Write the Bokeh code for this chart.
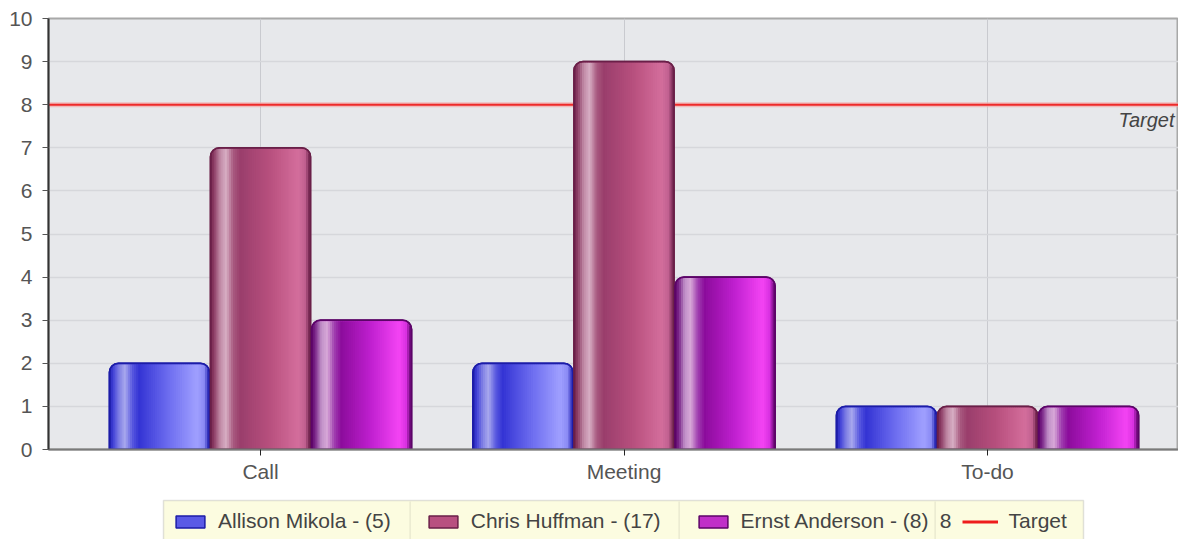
import numpy as np
from bokeh.plotting import figure
from bokeh.layouts import column
from bokeh.models import (Range1d, FixedTicker, Legend, LegendItem, Label, ColumnDataSource,
                          BoxAnnotation)
from bokeh.embed import file_html
from bokeh.resources import INLINE

# ---------------- data ----------------
categories = ["Call", "Meeting", "To-do"]
series_names = ["Allison Mikola", "Chris Huffman", "Ernst Anderson"]
allison = [2, 2, 1]
chris = [7, 9, 1]
ernst = [3, 4, 1]
target = 8
y_ticks = [0, 1, 2, 3, 4, 5, 6, 7, 8, 9, 10]

series_values = [allison, chris, ernst]

# ---------------- style ----------------
FONT = "Liberation Sans"
W = 1178
MAIN_H = 489
LEG_H = 50
BORDER_L, BORDER_T, BORDER_B = 48, 18, 40
FRAME_W = W - BORDER_L
FRAME_H = MAIN_H - BORDER_T - BORDER_B
X_LO, X_HI = -0.0832, 3.0254
Y_LO, Y_HI = 0, 10
BAR_W = 0.275
OFFSETS = [-0.278, 0.0, 0.278]
RADIUS_PX = 9
N_STRIPES = 48

profiles = [
    [(0.0, "#1c1ca8"), (0.04, "#4040d8"), (0.10, "#8080e4"), (0.16, "#a8a8ee"), (0.23, "#5a5ae0"),
     (0.30, "#3434d4"), (0.60, "#6e6ef0"), (0.88, "#a0a0ff"), (0.95, "#8a8af4"), (1.0, "#2020b0")],
    [(0.0, "#6a1f48"), (0.04, "#8e3e66"), (0.10, "#c08aa6"), (0.16, "#d8aec4"), (0.23, "#a85a80"),
     (0.30, "#9a3e6c"), (0.60, "#b8507e"), (0.88, "#d46e9c"), (0.95, "#c06090"), (1.0, "#6a1f48")],
    [(0.0, "#5c0468"), (0.04, "#7a2488"), (0.10, "#c090c8"), (0.16, "#d8a8d8"), (0.23, "#a040b0"),
     (0.30, "#8c0c9c"), (0.60, "#c020d0"), (0.88, "#f444f4"), (0.95, "#d830e0"), (1.0, "#5c0468")],
]
legend_fill = ["#5a5ae6", "#b85080", "#c030c8"]
edge_colors = ["#1c1ca8", "#6a1f48", "#5c0468"]


def hex2rgb(h):
    h = h.lstrip("#")
    return np.array([int(h[i:i + 2], 16) for i in (0, 2, 4)], dtype=float)


def interp_color(profile, t):
    for (t0, c0), (t1, c1) in zip(profile[:-1], profile[1:]):
        if t0 <= t <= t1:
            f = 0 if t1 == t0 else (t - t0) / (t1 - t0)
            rgb = hex2rgb(c0) * (1 - f) + hex2rgb(c1) * f
            return "#%02x%02x%02x" % tuple(int(round(v)) for v in rgb)
    return profile[-1][1]


p = figure(width=W, height=MAIN_H,
           x_range=Range1d(X_LO, X_HI), y_range=Range1d(Y_LO, Y_HI),
           output_backend="svg", toolbar_location=None,
           min_border_left=BORDER_L, min_border_right=0, min_border_top=BORDER_T,
           min_border_bottom=BORDER_B)

p.background_fill_color = "#e7e8eb"
p.border_fill_color = "white"
p.outline_line_color = "#a8a8a8"
p.outline_line_width = 2

xs = [i + 0.5 for i in range(len(categories))]

# grids
p.xgrid.ticker = FixedTicker(ticks=xs)
p.ygrid.ticker = FixedTicker(ticks=y_ticks)
p.xgrid.grid_line_color = "#c9cacf"
p.ygrid.grid_line_color = "#d6d7db"
p.xgrid.grid_line_width = 1
p.ygrid.grid_line_width = 1.5

# axes
p.xaxis.ticker = FixedTicker(ticks=xs)
p.xaxis.major_label_overrides = {x: c for x, c in zip(xs, categories)}
p.yaxis.ticker = FixedTicker(ticks=y_ticks)
for ax in (p.xaxis[0], p.yaxis[0]):
    ax.minor_tick_line_color = None
    ax.major_label_text_font = FONT
    ax.major_label_text_font_size = "21px"
    ax.major_label_text_color = "#555555"
    ax.major_tick_in = 0
    ax.major_tick_out = 6
p.xaxis.axis_line_color = "#7a7a7a"
p.xaxis.axis_line_width = 2
p.xaxis.major_tick_line_color = "#222222"
p.xaxis.major_label_standoff = 4
p.yaxis.axis_line_color = "#333333"
p.yaxis.axis_line_width = 2
p.yaxis.major_tick_line_color = "#555555"
p.yaxis.major_label_standoff = 10

# target line
p.line(x=[X_LO, X_HI], y=[target, target], line_color="#f4a8a8", line_width=5, line_alpha=0.7)
p.line(x=[X_LO, X_HI], y=[target, target], line_color="#ee2a2a", line_width=2)

# bars
px_per_x = FRAME_W / (X_HI - X_LO)
px_per_y = FRAME_H / (Y_HI - Y_LO)
bar_px = BAR_W * px_per_x

for s, vals in enumerate(series_values):
    centers = [x + OFFSETS[s] for x in xs]
    p.vbar(x=centers, top=vals, bottom=0, width=BAR_W, fill_color=legend_fill[s],
           line_color=edge_colors[s], line_width=1.5, border_radius=(RADIUS_PX, RADIUS_PX, 0, 0))

sx, stop, scol = [], [], []
for s, vals in enumerate(series_values):
    for c, v in enumerate(vals):
        left = xs[c] + OFFSETS[s] - BAR_W / 2
        for k in range(N_STRIPES):
            u = (k + 0.5) / N_STRIPES
            upx = u * bar_px
            d = min(upx, bar_px - upx)
            drop = 0.0
            if d < RADIUS_PX:
                drop = RADIUS_PX - np.sqrt(max(RADIUS_PX ** 2 - (RADIUS_PX - d) ** 2, 0))
            sx.append(left + u * BAR_W)
            stop.append(v - (drop + 1.0) / px_per_y)
            scol.append(interp_color(profiles[s], u))
src = ColumnDataSource(dict(x=sx, top=stop, color=scol))
p.vbar(x="x", top="top", bottom=0, width=BAR_W / N_STRIPES * 1.35, fill_color="color",
       line_color=None, source=src)

for s, vals in enumerate(series_values):
    centers = [x + OFFSETS[s] for x in xs]
    p.vbar(x=centers, top=vals, bottom=0, width=BAR_W, fill_alpha=0,
           line_color=edge_colors[s], line_width=1.8, border_radius=(RADIUS_PX, RADIUS_PX, 0, 0))

# target label
p.add_layout(Label(x=X_HI, y=target, text="Target", text_align="right", text_baseline="top",
                   x_offset=-4, y_offset=-4, text_font=FONT, text_font_size="20px",
                   text_font_style="italic", text_color="#444444"))

# ---------------- legend strip (x/y in pixels of the strip) ----------------
lp = figure(width=W, height=LEG_H, x_range=Range1d(BORDER_L, W), y_range=Range1d(0, LEG_H),
            output_backend="svg", toolbar_location=None, min_border=0,
            min_border_left=BORDER_L, x_axis_location=None, y_axis_location=None)
lp.grid.visible = False
lp.outline_line_color = None
lp.background_fill_color = "white"

BOX_L, BOX_R, BOX_TOP = 163, 1083, 39
lp.add_layout(BoxAnnotation(left=BOX_L, right=BOX_R, top=BOX_TOP, bottom=-10, level="underlay",
                            fill_color="#fcfce0", fill_alpha=1.0,
                            line_color="#a0a0a0", line_width=1.5))
for sep in (409, 678, 934):
    lp.add_layout(BoxAnnotation(left=sep, right=sep + 1.2, top=BOX_TOP - 1, bottom=-10,
                                level="underlay", fill_color="#e6e6cc", fill_alpha=1.0,
                                line_color=None))

# legend proxies (one NaN point each, so nothing is drawn in the strip itself)
leg_renderers = []
for s in range(len(series_names)):
    leg_renderers.append(lp.vbar(x=[np.nan], top=[np.nan], width=1, fill_color=legend_fill[s],
                                 line_color=edge_colors[s], line_width=1.5))
target_leg = lp.line(x=[np.nan, np.nan], y=[np.nan, np.nan], line_color="#ee1c1c", line_width=3)

items = [LegendItem(label=f"{n} - ({sum(v)})", renderers=[r])
         for n, v, r in zip(series_names, series_values, leg_renderers)]
items.append(LegendItem(label="Target", renderers=[target_leg]))
LEG_BOX_H = 44
legend = Legend(items=items, orientation="horizontal",
                location=(BOX_L + 9 - BORDER_L, LEG_H - 11 - LEG_BOX_H + 11),
                label_text_font=FONT, label_text_font_size="21px", label_text_color="#444444",
                glyph_width=36, glyph_height=15, label_standoff=10, spacing=34, padding=10,
                label_height=22, margin=0,
                background_fill_alpha=0.0, border_line_color=None)
lp.add_layout(legend)

lp.add_layout(Label(x=945, y=19, text=str(target),
                    text_align="center", text_baseline="middle", text_font=FONT,
                    text_font_size="21px", text_color="#444444"))

open("out.html", "w").write(file_html(column(p, lp), INLINE))
